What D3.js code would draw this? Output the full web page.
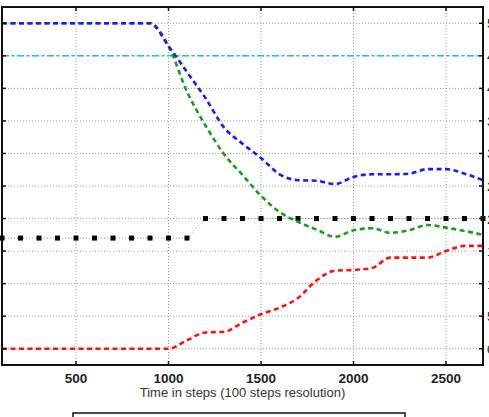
<!DOCTYPE html>
<html>
<head>
<meta charset="utf-8">
<script src="https://cdn.jsdelivr.net/npm/d3@7"></script>
<style>
  body { margin: 0; background: #fff; }
  svg { display: block; font-family: "Liberation Sans", Arial, sans-serif; }
</style>
</head>
<body>
<div class="graphic"></div>
<script>
// sample steps (100 steps resolution)
const steps = d3.range(100, 2701, 100);

const blueVals = [50, 50, 50, 50, 50, 50, 50, 50, 50, 46.5, 42.5, 38.5, 34, 31.5, 29.3, 26.8, 25.9, 25.8,
  25.3, 26.4, 26.8, 26.8, 26.9, 27.6, 27.6, 26.9, 25.9];
const greenVals = [50, 50, 50, 50, 50, 50, 50, 50, 50, 46.5, 39.5, 34.3, 29.9, 26.7, 23.5, 21, 19.5, 18.3,
  17.2, 18.2, 18.5, 17.8, 18.2, 19, 18.6, 18.1, 17.5];
const redVals = [0, 0, 0, 0, 0, 0, 0, 0, 0, 0, 1.3, 2.5, 2.6, 4.0, 5.3, 6.3, 7.8, 10.5,
  12.0, 12.1, 12.4, 14.0, 14.0, 14.0, 15.0, 15.8, 15.8];
const blackVals = [17, 17, 17, 17, 17, 17, 17, 17, 17, 17, 17, 20, 20, 20, 20, 20, 20, 20,
  20, 20, 20, 20, 20, 20, 20, 20, 20];
const thresholdVal = 45;

const xTicks = [500, 1000, 1500, 2000, 2500];
const yTicks = [0, 5, 10, 15, 20, 25, 30, 35, 40, 45, 50];
const xLabel = 'Time in steps (100 steps resolution)';

const width = 489, height = 417;
const margin = {top: 7, right: 6, bottom: 52, left: 2};

const svg = d3.select('.graphic')
  .append('svg')
  .attr('width', width)
  .attr('height', height);

const x = d3.scaleLinear()
  .domain([100, 2700])
  .range([margin.left, width - margin.right]);

const y = d3.scaleLinear()
  .domain([-2.5, 52.5])
  .range([height - margin.bottom, margin.top]);

// dotted grid
svg.append('g')
  .selectAll('line')
  .data(xTicks)
  .enter().append('line')
  .attr('x1', d => x(d)).attr('x2', d => x(d))
  .attr('y1', y.range()[1]).attr('y2', y.range()[0])
  .style('stroke', '#9a9a9a')
  .style('stroke-width', 1)
  .style('stroke-dasharray', '1,2');

svg.append('g')
  .selectAll('line')
  .data(yTicks)
  .enter().append('line')
  .attr('x1', x.range()[0]).attr('x2', x.range()[1])
  .attr('y1', d => y(d)).attr('y2', d => y(d))
  .style('stroke', '#9a9a9a')
  .style('stroke-width', 1)
  .style('stroke-dasharray', '1,2');

// threshold line
svg.append('line')
  .attr('x1', x.range()[0]).attr('x2', x.range()[1])
  .attr('y1', y(thresholdVal)).attr('y2', y(thresholdVal))
  .style('stroke', '#22c4c4')
  .style('stroke-width', 1.5)
  .style('stroke-dasharray', '7,3,2,3');

const line = d3.line()
  .x((d, i) => x(steps[i]))
  .y(d => y(d))
  .curve(d3.curveMonotoneX);

// black series: thin dotted line + square markers
svg.append('path')
  .datum(blackVals)
  .attr('d', d3.line().x((d, i) => x(steps[i])).y(d => y(d)))
  .style('fill', 'none')
  .style('stroke', '#999')
  .style('stroke-width', 1)
  .style('stroke-dasharray', '1,2');

svg.append('g')
  .selectAll('rect')
  .data(blackVals)
  .enter().append('rect')
  .attr('x', (d, i) => x(steps[i]) - 2.5)
  .attr('y', d => y(d) - 2.5)
  .attr('width', 5)
  .attr('height', 5)
  .style('fill', '#000');

const series = [
  {vals: redVals, color: '#ff1010'},
  {vals: greenVals, color: '#1f9a1f'},
  {vals: blueVals, color: '#1a1aff'}
];

series.forEach(s => {
  svg.append('path')
    .datum(s.vals)
    .attr('d', line)
    .style('fill', 'none')
    .style('stroke', s.color)
    .style('stroke-width', 2.6)
    .style('stroke-dasharray', '5,3.5');
});

// axes box
const x0 = x.range()[0], x1 = x.range()[1];
const yb = y.range()[0], yt = y.range()[1];
svg.append('rect')
  .attr('x', x0).attr('y', yt)
  .attr('width', x1 - x0).attr('height', yb - yt)
  .style('fill', 'none')
  .style('stroke', '#111')
  .style('stroke-width', 2);

// x ticks (inside, top and bottom)
xTicks.forEach(t => {
  svg.append('line')
    .attr('x1', x(t)).attr('x2', x(t))
    .attr('y1', yb).attr('y2', yb - 4)
    .style('stroke', '#111').style('stroke-width', 1.5);
  svg.append('line')
    .attr('x1', x(t)).attr('x2', x(t))
    .attr('y1', yt).attr('y2', yt + 4)
    .style('stroke', '#111').style('stroke-width', 1.5);
});

// y ticks (inside, left and right)
yTicks.forEach(t => {
  svg.append('line')
    .attr('x1', x1).attr('x2', x1 - 4)
    .attr('y1', y(t)).attr('y2', y(t))
    .style('stroke', '#111').style('stroke-width', 1.5);
  svg.append('line')
    .attr('x1', x0).attr('x2', x0 + 4)
    .attr('y1', y(t)).attr('y2', y(t))
    .style('stroke', '#111').style('stroke-width', 1.5);
});

// tick labels
svg.append('g')
  .selectAll('text')
  .data(xTicks)
  .enter().append('text')
  .attr('x', d => x(d))
  .attr('y', yb + 18)
  .attr('text-anchor', 'middle')
  .style('font-size', '13.5px')
  .style('font-weight', 'bold')
  .style('fill', '#222')
  .text(d => d);

svg.append('g')
  .selectAll('text')
  .data(yTicks)
  .enter().append('text')
  .attr('x', x1 + 4)
  .attr('y', d => y(d) + 5)
  .style('font-size', '13.5px')
  .style('fill', '#222')
  .text(d => d);

svg.append('text')
  .attr('x', (x0 + x1) / 2)
  .attr('y', yb + 32)
  .attr('text-anchor', 'middle')
  .style('font-size', '13px')
  .style('fill', '#333')
  .text(xLabel);

// legend box (cut off at bottom of the figure)
svg.append('rect')
  .attr('x', 73).attr('y', 413)
  .attr('width', 332).attr('height', 30)
  .style('fill', '#fff')
  .style('stroke', '#111')
  .style('stroke-width', 1.5);
</script>
</body>
</html>
